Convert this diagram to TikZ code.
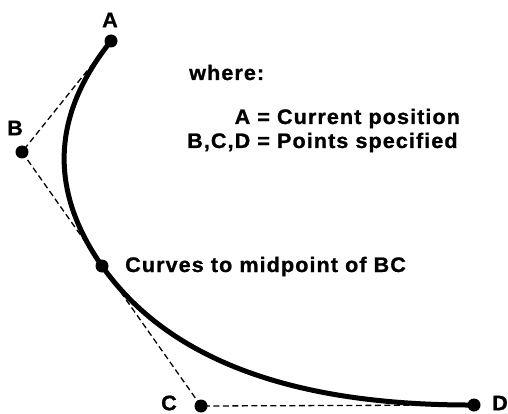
\documentclass[tikz,border=0pt]{standalone}
\usepackage{fontspec}
\setmainfont{Liberation Sans}[FakeStretch=1.03,LetterSpace=5,FakeBold=1]
\usetikzlibrary{calc}
\begin{document}
\begin{tikzpicture}[x=1pt,y=-1pt,
  dot/.style={circle,fill=black,inner sep=0pt,minimum size=13pt},
  guide/.style={line width=1.3pt,dash pattern=on 6pt off 3.5pt},
  curvestyle/.style={line width=5pt},
  lbl/.style={font=\fontsize{21}{24}\selectfont\bfseries,inner sep=0pt}]
\useasboundingbox (0,0) rectangle (508,414);
% points
\node[dot] (A) at (111,41) {};
\node[dot] (B) at (22,152) {};
\node[dot] (M) at (102,266) {};
\node[dot] (C) at (201,406) {};
\node[dot] (D) at (474,405) {};
% control polygon
\draw[guide] (A.center) -- (B.center) -- (C.center) -- (D.center);
% curve
\draw[curvestyle] (A.center)
  .. controls ($(A.center)!2/3!(B.center)$) and ($(M.center)!2/3!(B.center)$) .. (M.center)
  .. controls ($(M.center)!2/3!(C.center)$) and ($(D.center)!2/3!(C.center)$) .. (D.center);
% labels
\node[lbl] (lA) at (110,20) {A};
\node[lbl] (lB) at (15,128) {B};
\node[lbl] (lC) at (169,403) {C};
\node[lbl] (lD) at (500,403) {D};
\node[lbl,anchor=base west] (where) at (189,80) {where:};
\node[lbl,anchor=base west] (legend) at (187,148)
  {\begin{tabular}[b]{@{}r@{~}l@{}}A & = Current position\\ B,C,D & = Points specified\end{tabular}};
\node[lbl,anchor=base west] (mid) at (125,272) {Curves to midpoint of BC};
\end{tikzpicture}
\end{document}
